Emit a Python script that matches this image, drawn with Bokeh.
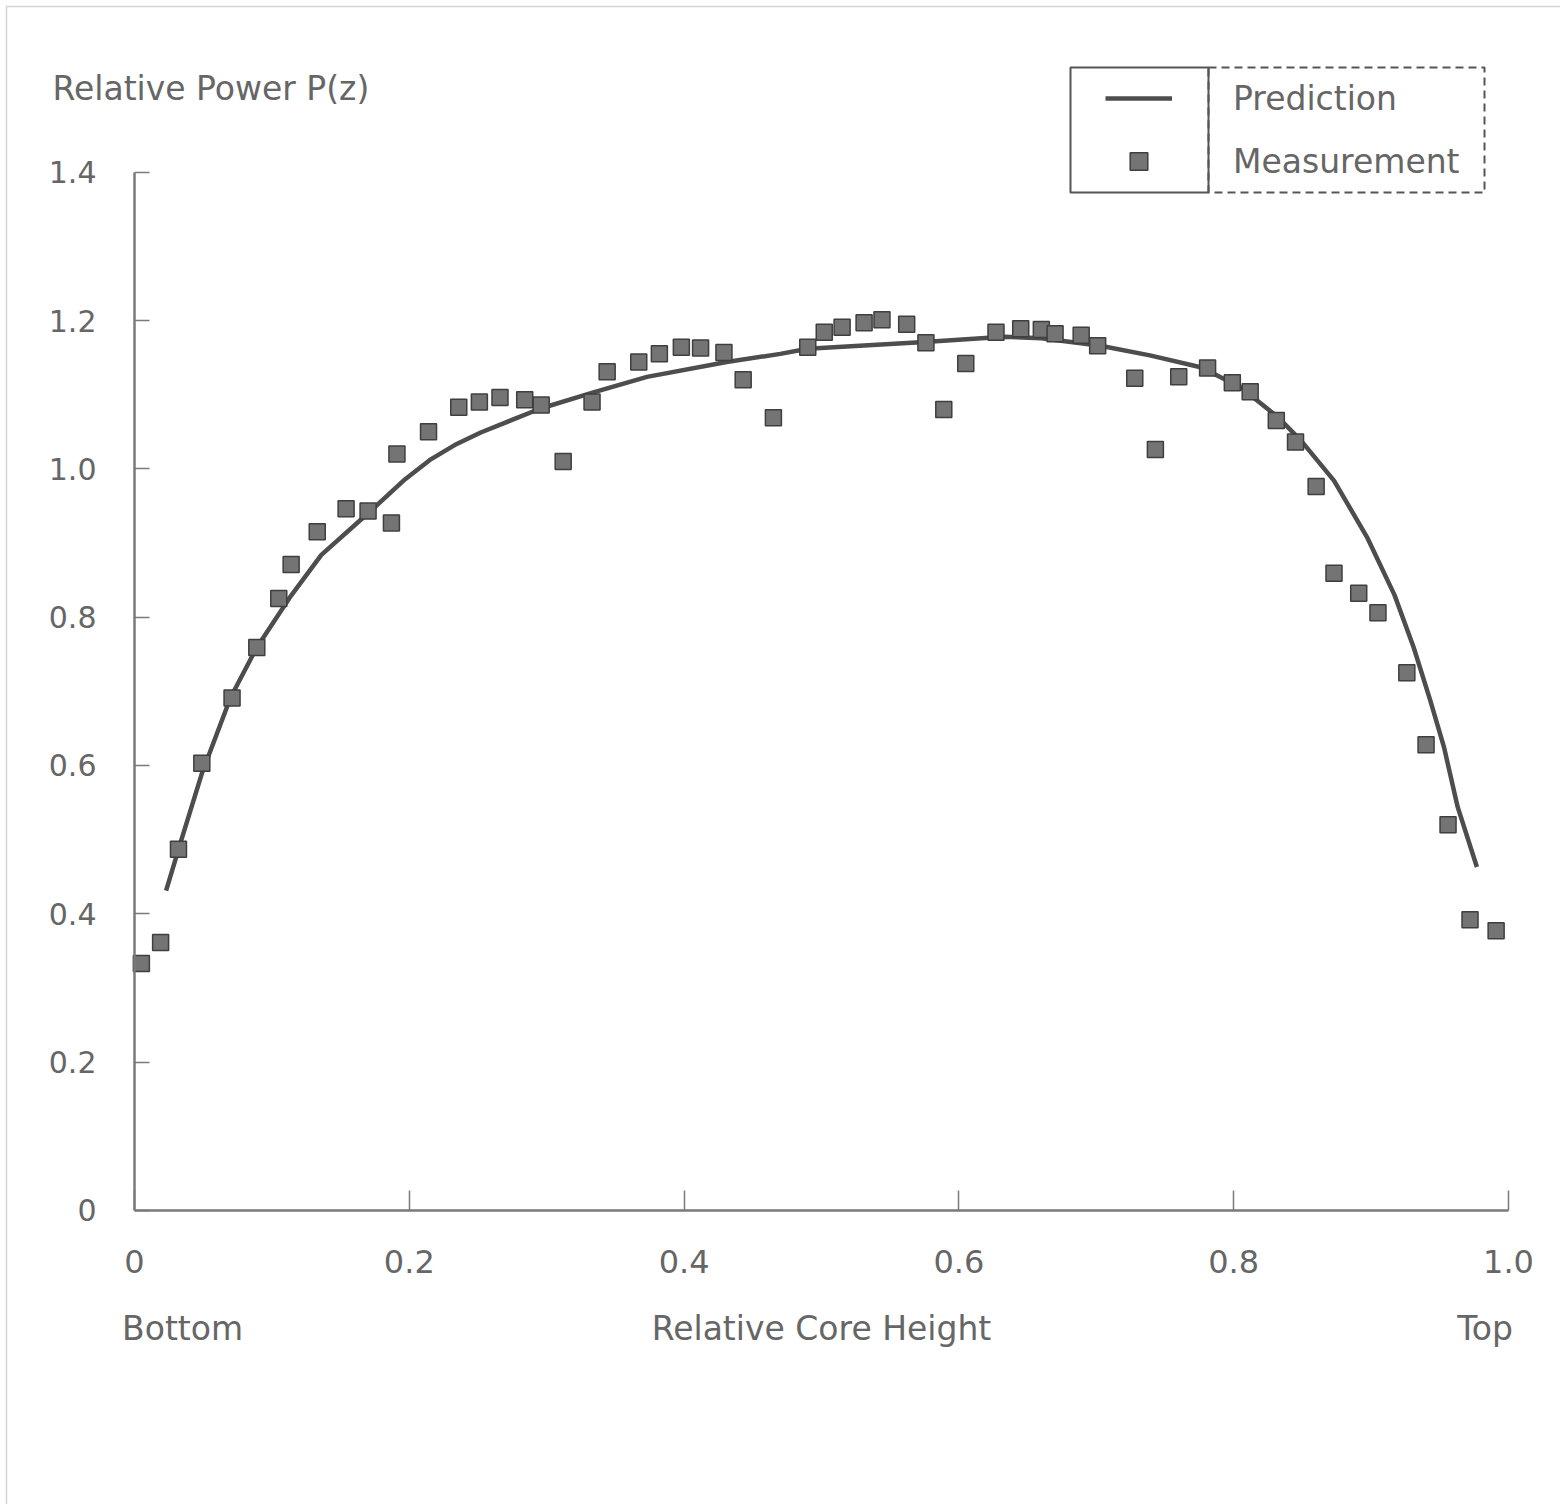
from bokeh.plotting import figure
from bokeh.models import (Range1d, FixedTicker, Label, Legend, LegendItem, BoxAnnotation)
from bokeh.embed import file_html
from bokeh.resources import INLINE

# ---- data ----
meas_x = [0.005, 0.019, 0.032, 0.049, 0.071, 0.089, 0.105, 0.114, 0.133, 0.154,
          0.170, 0.187, 0.191, 0.214, 0.236, 0.251, 0.266, 0.284, 0.296, 0.312,
          0.333, 0.344, 0.367, 0.382, 0.398, 0.412, 0.429, 0.443, 0.465, 0.490,
          0.502, 0.515, 0.531, 0.544, 0.562, 0.576, 0.589, 0.605, 0.627, 0.645,
          0.660, 0.670, 0.689, 0.701, 0.728, 0.743, 0.760, 0.781, 0.799, 0.812,
          0.831, 0.845, 0.860, 0.873, 0.891, 0.905, 0.926, 0.940, 0.956, 0.972,
          0.991]
meas_y = [0.333, 0.361, 0.487, 0.603, 0.691, 0.759, 0.825, 0.871, 0.915, 0.946,
          0.943, 0.927, 1.020, 1.050, 1.083, 1.090, 1.096, 1.093, 1.086, 1.010,
          1.090, 1.131, 1.144, 1.155, 1.164, 1.163, 1.157, 1.120, 1.069, 1.164,
          1.184, 1.191, 1.197, 1.201, 1.195, 1.170, 1.080, 1.142, 1.184, 1.189,
          1.188, 1.182, 1.180, 1.166, 1.122, 1.026, 1.124, 1.136, 1.116, 1.104,
          1.065, 1.036, 0.976, 0.859, 0.832, 0.806, 0.725, 0.628, 0.520, 0.392,
          0.377]

pred_x = [0.023, 0.034, 0.049, 0.070, 0.089, 0.114, 0.136, 0.170, 0.197, 0.215,
          0.233, 0.252, 0.295, 0.334, 0.373, 0.431, 0.470, 0.490, 0.575, 0.633,
          0.660, 0.703, 0.739, 0.776, 0.805, 0.832, 0.849, 0.873, 0.897, 0.917,
          0.931, 0.943, 0.953, 0.963, 0.977]
pred_y = [0.431, 0.499, 0.589, 0.692, 0.759, 0.829, 0.884, 0.940, 0.986, 1.012,
          1.032, 1.049, 1.081, 1.103, 1.124, 1.144, 1.155, 1.162, 1.171, 1.178,
          1.176, 1.166, 1.153, 1.137, 1.110, 1.070, 1.038, 0.984, 0.908, 0.830,
          0.759, 0.688, 0.625, 0.544, 0.463]

x_ticks = [0, 0.2, 0.4, 0.6, 0.8, 1.0]
x_tick_labels = ["0", "0.2", "0.4", "0.6", "0.8", "1.0"]
y_ticks = [0, 0.2, 0.4, 0.6, 0.8, 1.0, 1.2, 1.4]
y_tick_labels = ["0", "0.2", "0.4", "0.6", "0.8", "1.0", "1.2", "1.4"]

series_names = ["Prediction", "Measurement"]
y_title = "Relative Power P(z)"
x_title = "Relative Core Height"
x_end_labels = ["Bottom", "Top"]
x_end_pos = [0.035, 0.983]

FONT = "DejaVu Sans"
TXT = "#666666"
AX = "#7a7a7a"
W, H = 1560, 1504

p = figure(width=W, height=H, output_backend="svg", toolbar_location=None,
           x_range=Range1d(-0.09753, 1.03785), y_range=Range1d(-0.39676, 1.63156),
           min_border=0)
p.outline_line_color = None
p.grid.visible = False
p.background_fill_color = "white"
p.border_fill_color = "white"

# axes
for ax in (p.xaxis[0], p.yaxis[0]):
    ax.fixed_location = 0
    ax.axis_line_color = AX
    ax.axis_line_width = 2.5
    ax.major_tick_line_color = AX
    ax.major_tick_line_width = 1.5
    ax.major_tick_out = 0
    ax.minor_tick_line_color = None
    ax.major_label_text_font = FONT
    ax.major_label_text_color = TXT

xa = p.xaxis[0]
xa.bounds = (0, 1.0)
xa.ticker = FixedTicker(ticks=x_ticks)
xa.major_label_overrides = dict(zip(x_ticks, x_tick_labels))
xa.major_tick_in = 20
xa.major_label_text_font_size = "32px"
xa.major_label_standoff = 40
xa.axis_label = x_title
xa.axis_label_text_font = FONT
xa.axis_label_text_font_size = "33px"
xa.axis_label_text_font_style = "normal"
xa.axis_label_text_color = TXT
xa.axis_label_standoff = 32

ya = p.yaxis[0]
ya.bounds = (0, 1.4)
ya.ticker = FixedTicker(ticks=y_ticks)
ya.major_label_overrides = dict(zip(y_ticks, y_tick_labels))
ya.major_tick_in = 15
ya.major_label_text_font_size = "30px"
ya.major_label_standoff = 38

# faint page frame
p.add_layout(BoxAnnotation(left=6, right=W + 20, top=H - 6, bottom=-20,
                           left_units="screen", right_units="screen",
                           top_units="screen", bottom_units="screen",
                           fill_alpha=0, line_color="#d4d4d4", line_alpha=1,
                           line_width=1.5))

# data
line_r = p.line(pred_x, pred_y, line_color="#4d4d4d", line_width=4.5,
                line_join="round")
sc_r = p.scatter(meas_x, meas_y, marker="square", size=16,
                 fill_color="#747474", line_color="#3f3f3f", line_width=1.5)

# labels
p.add_layout(Label(x=52, y=H - 88, x_units="screen", y_units="screen",
                   text=y_title, text_font=FONT, text_font_size="33px",
                   text_color=TXT, text_baseline="middle", text_align="left"))
for t, xp in zip(x_end_labels, x_end_pos):
    p.add_layout(Label(x=xp, y=H - 1328, y_units="screen", text=t, text_font=FONT,
                       text_font_size="33px", text_color=TXT,
                       text_baseline="middle", text_align="center"))

# legend frame: dashed right half, solid left half
p.add_layout(BoxAnnotation(left=1208, right=1484, top=H - 67, bottom=H - 192,
                           left_units="screen", right_units="screen",
                           top_units="screen", bottom_units="screen",
                           fill_alpha=0, line_color="#555555", line_alpha=1,
                           line_width=2, line_dash="8 5"))
p.add_layout(BoxAnnotation(left=1070, right=1208, top=H - 67, bottom=H - 192,
                           left_units="screen", right_units="screen",
                           top_units="screen", bottom_units="screen",
                           fill_alpha=0, line_color="#555555", line_alpha=1,
                           line_width=2))

legend = Legend(items=[LegendItem(label=series_names[0], renderers=[line_r]),
                       LegendItem(label=series_names[1], renderers=[sc_r])],
                location=(1105, H - 183), padding=0, margin=0, spacing=19,
                glyph_width=67, glyph_height=44, label_height=44,
                label_standoff=61, label_text_font=FONT,
                label_text_font_size="33px", label_text_color=TXT,
                border_line_alpha=0, background_fill_alpha=0)
p.add_layout(legend)

open("out.html", "w").write(file_html(p, INLINE))
